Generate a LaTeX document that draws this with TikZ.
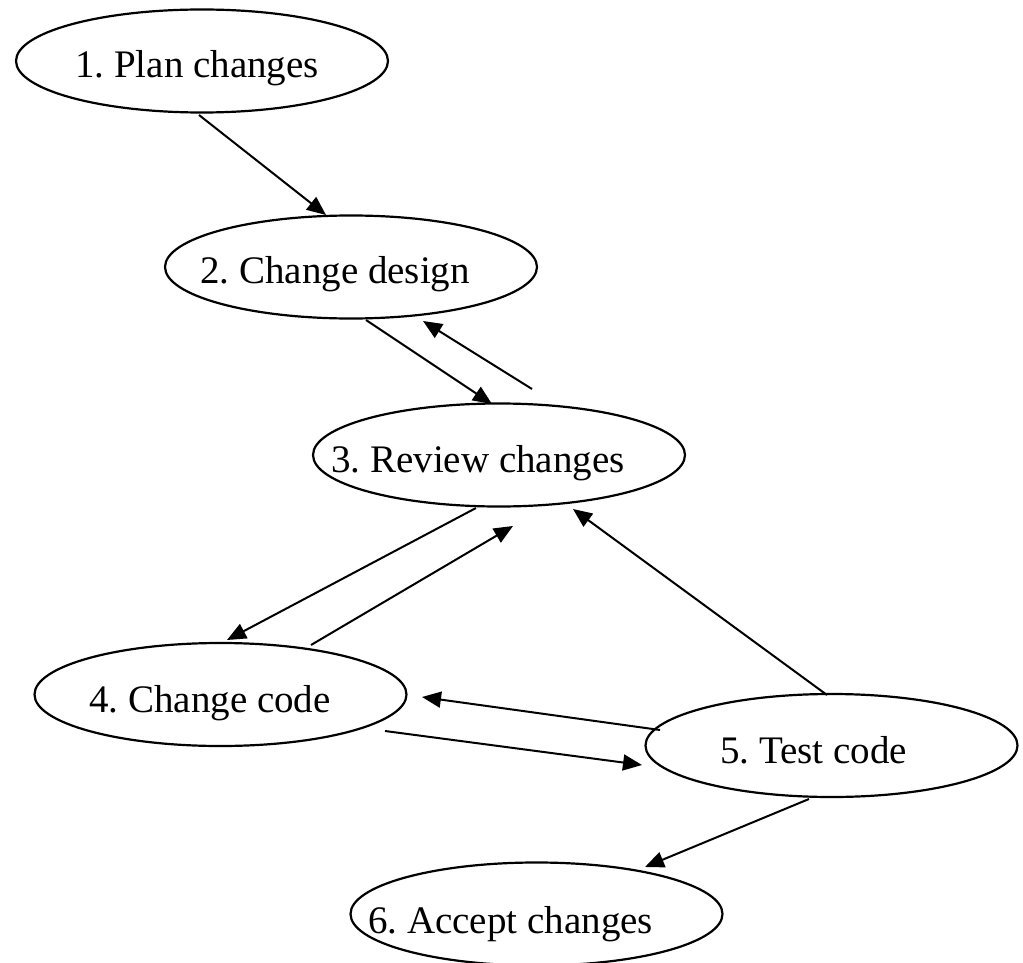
\documentclass[tikz,border=0pt]{standalone}
\usepackage{fontspec}
\setmainfont{Liberation Serif}
\usetikzlibrary{arrows.meta,shapes.geometric}
\frenchspacing

\tikzset{
  stage/.style={draw=black, line width=2.2pt, ellipse, minimum width=372pt, minimum height=103pt, inner sep=0pt},
  stagetext/.style={anchor=base west, inner sep=0pt, font=\fontsize{39}{46}\selectfont},
  flow/.style={line width=2pt, -{Triangle[length=19pt,width=16pt]}}
}

\begin{document}
\begin{tikzpicture}[x=1pt, y=-1pt]
  \useasboundingbox (0,0) rectangle (1023,963);
  \clip (0,0) rectangle (1023,963);

  % process stages
  \node[stage] (s1) at (202,61)    {};
  \node[stage] (s2) at (351,267)   {};
  \node[stage] (s3) at (499,455)   {};
  \node[stage] (s4) at (220.5,694.5) {};
  \node[stage] (s5) at (831.5,745.5) {};
  \node[stage] (s6) at (536.5,914) {};

  % stage captions
  \node[stagetext] (t1) at (75,78)   {1. Plan changes};
  \node[stagetext] (t2) at (200,283) {2. Change design};
  \node[stagetext] (t3) at (331,472) {3. Review changes};
  \node[stagetext] (t4) at (89,712)  {4. Change code};
  \node[stagetext] (t5) at (720,763) {5. Test code};
  \node[stagetext] (t6) at (368,933) {6. Accept changes};

  % arrow end points (arrows float between the ellipses)
  \coordinate (p12a) at (199,115);  \coordinate (p12b) at (326,215);
  \coordinate (p23a) at (366,320);  \coordinate (p23b) at (492,404);
  \coordinate (p32a) at (532,389);  \coordinate (p32b) at (423,321);
  \coordinate (p34a) at (476,508);  \coordinate (p34b) at (227,640);
  \coordinate (p43a) at (311,645);  \coordinate (p43b) at (513,526);
  \coordinate (p53a) at (827,695);  \coordinate (p53b) at (573,509);
  \coordinate (p54a) at (660,730);  \coordinate (p54b) at (422,697);
  \coordinate (p45a) at (385,731);  \coordinate (p45b) at (642,765);
  \coordinate (p56a) at (809,799);  \coordinate (p56b) at (645,867);

  \draw[flow] (p12a) -- (p12b);
  \draw[flow] (p23a) -- (p23b);
  \draw[flow] (p32a) -- (p32b);
  \draw[flow] (p34a) -- (p34b);
  \draw[flow] (p43a) -- (p43b);
  \draw[flow] (p53a) -- (p53b);
  \draw[flow] (p54a) -- (p54b);
  \draw[flow] (p45a) -- (p45b);
  \draw[flow] (p56a) -- (p56b);
\end{tikzpicture}
\end{document}
